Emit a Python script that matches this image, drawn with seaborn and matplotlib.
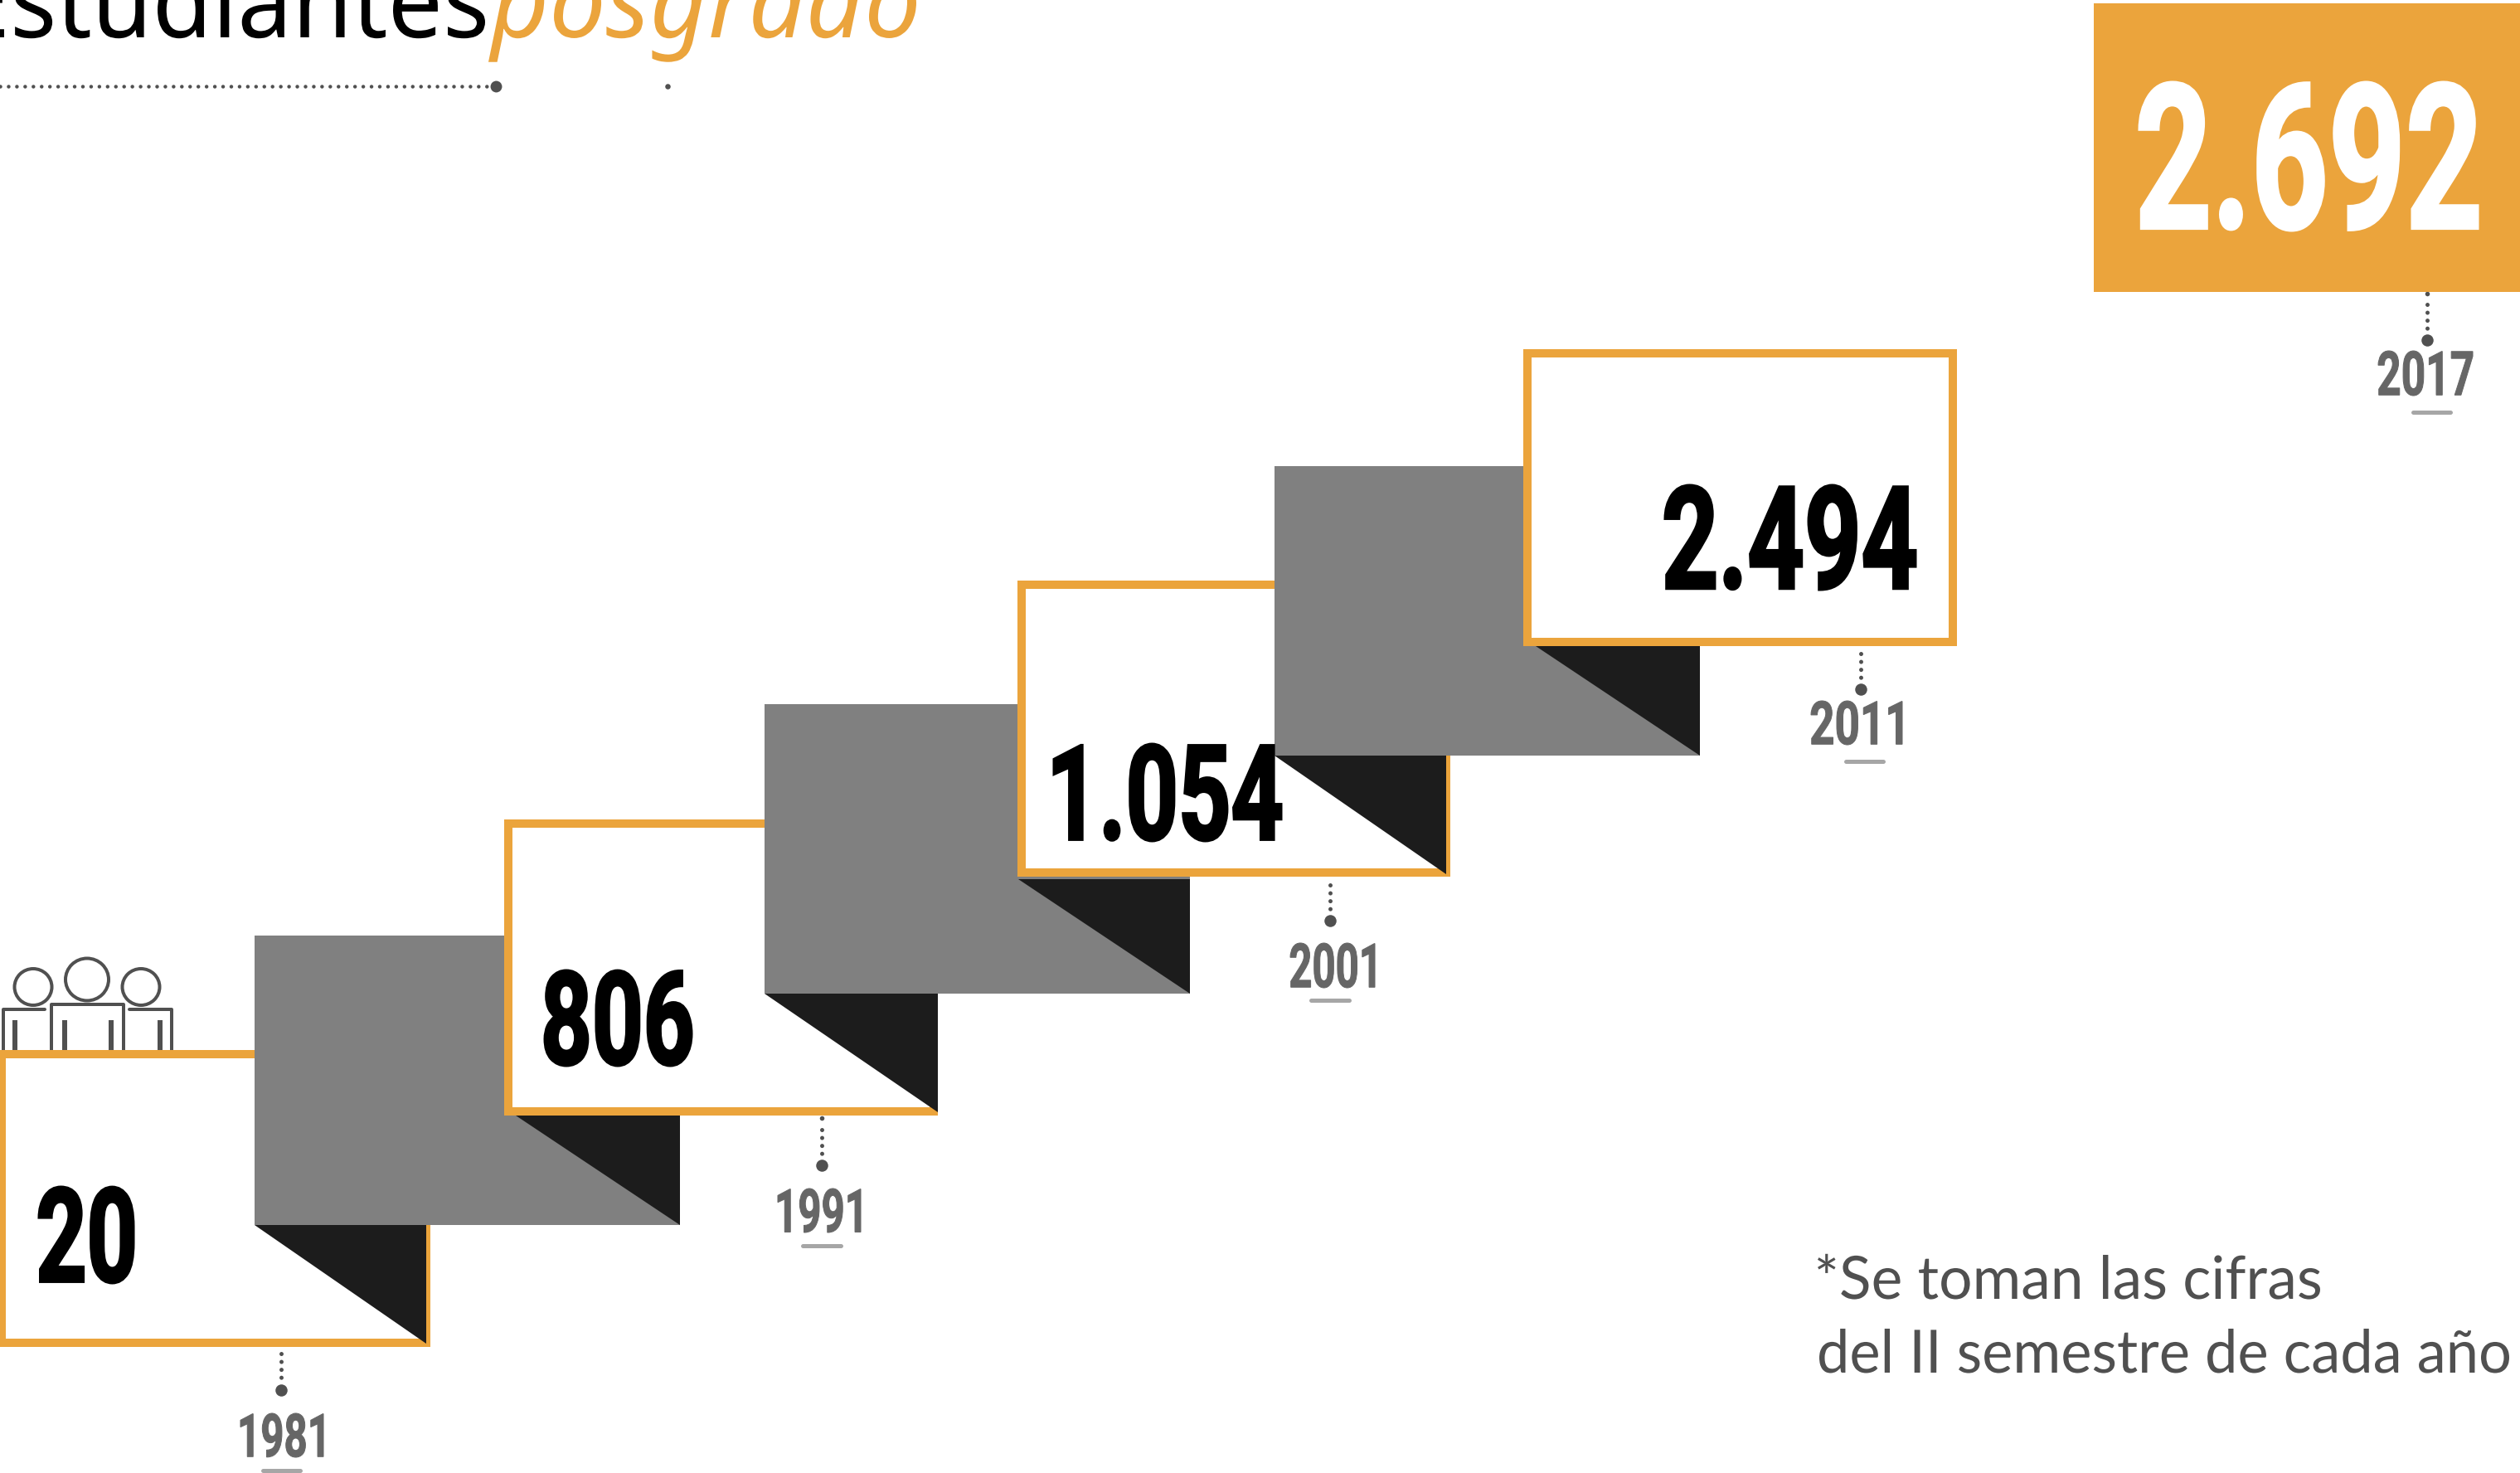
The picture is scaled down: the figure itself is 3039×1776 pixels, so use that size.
#!/usr/bin/env python3
"""
Estudiantes posgrado - staircase infographic
"""

import matplotlib
matplotlib.use('Agg')
import matplotlib.pyplot as plt
import seaborn as sns
from matplotlib.font_manager import FontProperties
from matplotlib.patches import Ellipse, Rectangle
from matplotlib.patheffects import AbstractPathEffect
from matplotlib.textpath import TextPath
from matplotlib.transforms import Affine2D

# Data
years = [1981, 1991, 2001, 2011, 2017]
students = [20, 806, 1054, 2494, 2692]
title_black = 'Estudiantes'
title_orange = 'posgrado'
note_lines = ['*Se toman las cifras', 'del II semestre de cada año']

# Layout in reference pixels
W, H = 3039, 1776
box_left = [-3, 608, 1227, 1837]
box_top = [1266, 988, 700, 421]
box_right = [519, 1131, 1749, 2360]
box_bottom = [1624, 1345, 1057, 779]
fold_right = [514, 1131, 1744]
sheet_left = [307, 922, 1537]
sheet_top = [1128, 849, 562]
value_x = [(47, 161), (657, 834), (1271, 1545), (2008, 2310), (2580, 2988)]
value_y = [(1547, 1431), (1285, 1170), (1014, 897), (711, 585), (278, 99)]
year_x = [(290, 390), (938, 1038), (1556, 1658), (2184, 2294), (2868, 2982)]
year_y = [(1757, 1704), (1486, 1433), (1191, 1137), (898, 845), (477, 423)]
leader_x = [339, 991, 1604, 2244, 2927]
leader_top = [1632, 1362, 1067, 788, 367]
leader_last = [1661, 1390, 1095, 817, 395]
leader_end = [1676, 1405, 1110, 831, 410]
rule_x = [(317, 362), (968, 1014), (1581, 1627), (2226, 2271), (2910, 2955)]
rule_y = [1773, 1502, 1206, 918, 497]

ORANGE = '#EBA43C'
SHEET = '#808080'
FOLD = '#1C1C1C'
DARK = '#505050'
YEAR = '#666666'
PX = 0.72  # points per pixel at dpi 100


class Squeeze(AbstractPathEffect):
    """Narrow the glyphs horizontally, the text stays a real text."""

    def __init__(self, sx, stroke=0, dx=0):
        self.sx = sx
        self.stroke = stroke
        self.dx = dx

    def draw_path(self, renderer, gc, tpath, affine, rgbFace=None):
        if self.stroke:
            gc.set_linewidth(self.stroke * PX)
            gc.set_foreground(rgbFace)
            gc.set_joinstyle('miter')
        tr = Affine2D().scale(self.sx, 1) + affine + Affine2D().translate(self.dx, 0)
        renderer.draw_path(gc, tpath, tr, rgbFace)


def fit_text(ax, s, xs, ys, color, z, family='Roboto', weight='bold', style='normal', em=None,
             stroke=0):
    fp = FontProperties(family=family, weight=weight, style=style)
    ext = TextPath((0, 0), s, size=100, prop=fp).get_extents()
    base = ys[0]
    if em is None:
        em = 100 * (ys[0] - ys[1]) / ext.height
        base = ys[0] + ext.y0 * em / 100
    sx = (xs[1] - xs[0]) / (ext.width * em / 100)
    x = xs[0] - ext.x0 * em / 100 * sx
    # keep the unsqueezed layout box inside the canvas on the right side
    dx = max(0, x + ext.x1 * em / 100 - (W - 4))
    ax.text(x - dx, base, s, fontproperties=fp, fontsize=em * PX, color=color, ha='left',
            va='baseline', zorder=z, path_effects=[Squeeze(sx, stroke, dx)])


sns.set_style('white')
fig = plt.figure(figsize=(W / 100, H / 100), dpi=100)
ax = fig.add_axes([0, 0, 1, 1])

# Title and its dotted rule
fit_text(ax, title_black, (-42, 585), (45, 0), 'black', 40, family='Noto Sans', weight='normal',
         em=124)
fit_text(ax, title_orange, (589, 1105), (45, 0), ORANGE, 40, family='Noto Sans', weight='normal',
         style='italic', em=124)
ax.plot([0, 598], [104, 104], color=DARK, lw=4.5 * PX, linestyle=(0, (0.01, 2.2)),
        dash_capstyle='round', zorder=5)
sns.scatterplot(x=[598], y=[104], s=100, color=DARK, linewidth=0, ax=ax, zorder=6)
sns.scatterplot(x=[805], y=[104], s=22, color=DARK, linewidth=0, ax=ax, zorder=6)

# People icon, sits behind the first box
for cx, cy, w, h in [(40, 1190, 45, 44), (105, 1181, 52, 51), (170, 1190, 45, 44)]:
    ax.add_patch(Ellipse((cx, cy), w, h, fill=False, ec=DARK, lw=4 * PX, zorder=2))
for xs, ys in [([54, 4, 4], [1217, 1217, 1270]), ([62, 62, 149, 149], [1270, 1211, 1211, 1270]),
               ([156, 207, 207], [1217, 1217, 1270])]:
    ax.plot(xs, ys, color=DARK, lw=4 * PX, zorder=2, solid_joinstyle='round')
for arm_x in [18, 77.5, 133.5, 193]:
    ax.plot([arm_x, arm_x], [1230, 1270], color=DARK, lw=6 * PX, zorder=2,
            solid_capstyle='butt')

# Staircase: box, its fold, the grey sheet, the next box on top of it
z = 10
sheet_w, sheet_h, line = 513, 349, 10
for i in range(4):
    ax.add_patch(Rectangle((box_left[i] + line / 2, box_top[i] + line / 2),
                           box_right[i] - box_left[i] - line, box_bottom[i] - box_top[i] - line,
                           fc='white', ec=ORANGE, lw=line * PX, zorder=z, joinstyle='miter'))
    if i < 3:
        sx0, sy0 = sheet_left[i], sheet_top[i]
        sx1, sy1 = sx0 + sheet_w, sy0 + sheet_h
        fx = fold_right[i]
        ax.fill([sx0, fx, fx], [sy1, sy1, sy1 + 143], color=FOLD, lw=0, zorder=z + 1)
        ax.add_patch(Rectangle((sx0, sy0), sheet_w, sheet_h, fc=SHEET, ec='none', zorder=z + 2))
        ax.fill([sx1 - 207, sx1, sx1], [sy1 - 138, sy1 - 138, sy1], color=FOLD, lw=0, zorder=z + 3)
    z += 4

# Last value on solid orange
ax.add_patch(Rectangle((2525, 4), 514, 348, fc=ORANGE, ec='none', zorder=z + 2))

# Leaders, years, values
for i, year in enumerate(years):
    ax.plot([leader_x[i], leader_x[i]], [leader_top[i], leader_last[i] + 1], color=DARK,
            lw=5 * PX, linestyle=(0, (0.01, 1.9)), dash_capstyle='round', zorder=5)
    fit_text(ax, str(year), year_x[i], year_y[i], YEAR, 40, stroke=1)
    ax.plot(rule_x[i], [rule_y[i], rule_y[i]], color='#A6A6A6', lw=5 * PX, zorder=5,
            solid_capstyle='round')
    label = f'{students[i]:,}'.replace(',', '.')
    fit_text(ax, label, value_x[i], value_y[i], 'white' if i == 4 else 'black', 40, stroke=3)
sns.scatterplot(x=leader_x, y=leader_end, s=109, color=DARK, linewidth=0, ax=ax, zorder=6)
sns.scatterplot(x=[991, 2927], y=[1348, 354], s=16, color=DARK, linewidth=0, ax=ax, zorder=5)

# Footnote
fit_text(ax, note_lines[0], (2192, 2798), (1566, 1513), DARK, 40, family='Lato', weight='normal',
         em=72)
fit_text(ax, note_lines[1], (2194, 3026), (1655, 1600), DARK, 40, family='Lato', weight='normal',
         em=72)

ax.set_xlim(0, W)
ax.set_ylim(H, 0)
ax.axis('off')
fig.savefig('out.png', dpi=100, facecolor='white')
